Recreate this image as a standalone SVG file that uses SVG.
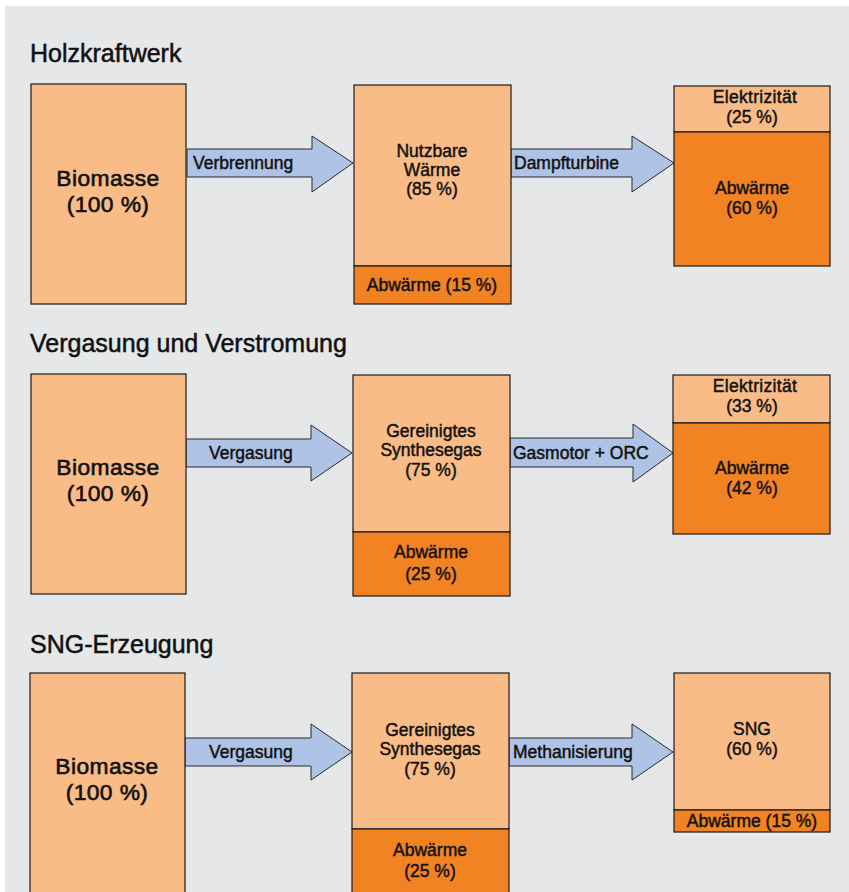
<svg xmlns="http://www.w3.org/2000/svg" width="849" height="892" viewBox="0 0 849 892">
<style>
.bg{fill:#e6e7e9}
.lt{fill:#f9bc87;stroke:#1a1a1a;stroke-width:1.2}
.dk{fill:#f28322;stroke:#1a1a1a;stroke-width:1.2}
.ar{fill:#aec3e5;stroke:#2a2a2a;stroke-width:1}
text{font-family:"Liberation Sans",Arial,sans-serif;fill:#111;stroke:#111;stroke-width:0.45}
.h{font-size:25px;stroke-width:0.5}
.b{font-size:22.8px;text-anchor:middle;stroke-width:0.6;letter-spacing:0.4px}
.t{font-size:17.5px;text-anchor:middle}
.a{font-size:17.5px}
</style>
<rect x="0" y="0" width="849" height="892" fill="#ffffff"/>
<rect class="bg" x="5" y="6" width="844" height="886"/>
<text class="h" x="30" y="62">Holzkraftwerk</text>
<text class="h" x="30" y="352">Vergasung und Verstromung</text>
<text class="h" x="30" y="653">SNG-Erzeugung</text>
<g id="connectors">
<polygon class="ar" points="187,149 312,149 312,136 353,163 312,192 312,177 187,177"/>
<polygon class="ar" points="511,149 632,149 632,136 674,163 632,192 632,177 511,177"/>
<polygon class="ar" points="186,439 311,439 311,425 352,453 311,481 311,467 186,467"/>
<polygon class="ar" points="510,438 633,438 633,424 673,453 633,482 633,467 510,467"/>
<polygon class="ar" points="185,738 311,738 311,724 352,752 311,780 311,766 185,766"/>
<polygon class="ar" points="509,738 632,738 632,724 673,752 632,780 632,766 509,766"/>
<text class="a" x="193" y="169">Verbrennung</text>
<text class="a" x="514" y="169">Dampfturbine</text>
<text class="a" x="209" y="459">Vergasung</text>
<text class="a" x="513" y="459">Gasmotor + ORC</text>
<text class="a" x="209" y="758">Vergasung</text>
<text class="a" x="513" y="758">Methanisierung</text>
</g>
<g id="r1-biomasse">
<rect class="lt" x="31" y="84" width="155" height="220"/>
<text class="b" x="108" y="186">Biomasse</text>
<text class="b" x="108" y="212">(100 %)</text>
</g>
<g id="r1-waerme">
<rect class="lt" x="354" y="85" width="157" height="181"/>
<rect class="dk" x="354" y="266" width="157" height="38"/>
<text class="t" x="432" y="157">Nutzbare</text>
<text class="t" x="432" y="176">Wärme</text>
<text class="t" x="432" y="195">(85 %)</text>
<text class="t" x="432" y="291">Abwärme (15 %)</text>
</g>
<g id="r1-strom">
<rect class="lt" x="674" y="86" width="156" height="46"/>
<rect class="dk" x="674" y="132" width="156" height="134"/>
<text class="t" x="755" y="103" letter-spacing="0.3">Elektrizität</text>
<text class="t" x="752" y="123">(25 %)</text>
<text class="t" x="752" y="194">Abwärme</text>
<text class="t" x="752" y="214">(60 %)</text>
</g>
<g id="r2-biomasse">
<rect class="lt" x="31" y="374" width="155" height="220"/>
<text class="b" x="108" y="475">Biomasse</text>
<text class="b" x="108" y="501">(100 %)</text>
</g>
<g id="r2-gas">
<rect class="lt" x="353" y="375" width="157" height="157"/>
<rect class="dk" x="353" y="532" width="157" height="64"/>
<text class="t" x="431" y="437">Gereinigtes</text>
<text class="t" x="431" y="456">Synthesegas</text>
<text class="t" x="431" y="476">(75 %)</text>
<text class="t" x="431" y="558">Abwärme</text>
<text class="t" x="431" y="580">(25 %)</text>
</g>
<g id="r2-strom">
<rect class="lt" x="673" y="375" width="157" height="48"/>
<rect class="dk" x="673" y="423" width="157" height="111"/>
<text class="t" x="755" y="392" letter-spacing="0.3">Elektrizität</text>
<text class="t" x="752" y="412">(33 %)</text>
<text class="t" x="752" y="474">Abwärme</text>
<text class="t" x="752" y="494">(42 %)</text>
</g>
<g id="r3-biomasse">
<rect class="lt" x="30" y="673" width="155" height="230"/>
<text class="b" x="107" y="774">Biomasse</text>
<text class="b" x="107" y="800">(100 %)</text>
</g>
<g id="r3-gas">
<rect class="lt" x="352" y="673" width="157" height="156"/>
<rect class="dk" x="352" y="829" width="157" height="75"/>
<text class="t" x="430" y="736">Gereinigtes</text>
<text class="t" x="430" y="755">Synthesegas</text>
<text class="t" x="430" y="775">(75 %)</text>
<text class="t" x="430" y="856">Abwärme</text>
<text class="t" x="430" y="877">(25 %)</text>
</g>
<g id="r3-sng">
<rect class="lt" x="674" y="673" width="156" height="137"/>
<rect class="dk" x="674" y="810" width="156" height="22"/>
<text class="t" x="752" y="735">SNG</text>
<text class="t" x="752" y="755">(60 %)</text>
<text class="t" x="752" y="827">Abwärme (15 %)</text>
</g>
</svg>
